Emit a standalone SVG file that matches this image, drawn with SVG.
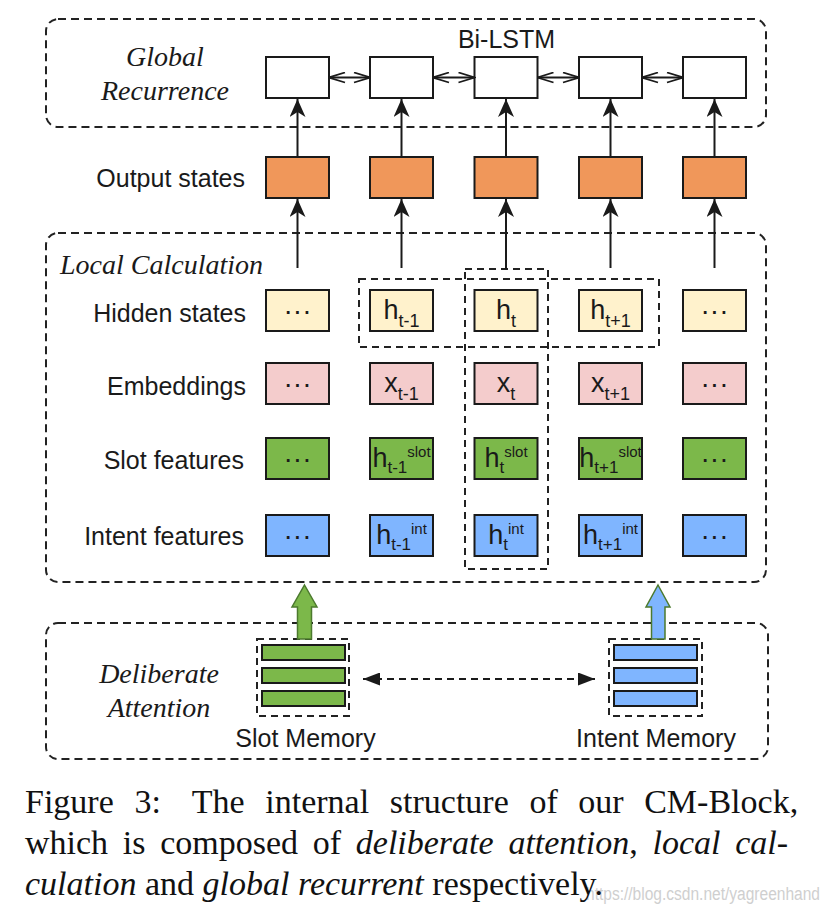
<svg xmlns="http://www.w3.org/2000/svg" width="832" height="918" viewBox="0 0 832 918">
<style>
.sans{font-family:"Liberation Sans",Arial,sans-serif;fill:#1a1a1a}
.lbl{font-size:25px}
.ital{font-family:"Liberation Serif","Times New Roman",serif;font-style:italic;font-size:28px;fill:#1a1a1a}
.cap{font-family:"Liberation Serif","Times New Roman",serif;font-size:34px;fill:#111}
.cap .i{font-style:italic}
.region{fill:none;stroke:#222;stroke-width:2;stroke-dasharray:8 5}
.dash{fill:none;stroke:#222;stroke-width:2;stroke-dasharray:7 5}
.box{stroke:#1a1a1a;stroke-width:2}
.lstm{fill:#fff}
.out{fill:#F0975A}
.hid{fill:#FFF2CC}
.emb{fill:#F4CCCC}
.slot{fill:#7CB84A}
.int{fill:#7FB5FF}
.ln{stroke:#1a1a1a;stroke-width:2;fill:none}
.cell{font-family:"Liberation Sans",Arial,sans-serif;font-size:27px;fill:#1a1a1a;text-anchor:middle}
.dots{font-family:"Liberation Sans",Arial,sans-serif;font-size:28px;fill:#1a1a1a;text-anchor:middle}
.sub{font-size:18px}
.sub2{font-size:17px}
.sup{font-size:15px}
</style>
<defs>
<marker id="head" viewBox="0 0 18 16" refX="18" refY="8" markerWidth="18" markerHeight="16" markerUnits="userSpaceOnUse" orient="auto">
<path d="M0,0 L18,8 L0,16 L5,8 Z" fill="#1a1a1a"/>
</marker>
<marker id="chev" viewBox="0 0 18 12" refX="17" refY="6" markerWidth="18" markerHeight="12" markerUnits="userSpaceOnUse" orient="auto-start-reverse">
<path d="M1,1 L17,6 L1,11" fill="none" stroke="#1a1a1a" stroke-width="1.8"/>
</marker>
<marker id="tri" viewBox="0 0 17 13" refX="17" refY="6.5" markerWidth="17" markerHeight="13" markerUnits="userSpaceOnUse" orient="auto-start-reverse">
<path d="M0,0 L17,6.5 L0,13 Z" fill="#1a1a1a" stroke="none"/>
</marker>
</defs>
<rect width="832" height="918" fill="#fff"/>

<!-- regions -->
<g id="global-recurrence">
<rect class="region" x="46" y="19" width="720" height="108" rx="12"/>
<text class="ital" x="165" y="66" text-anchor="middle">Global</text>
<text class="ital" x="165" y="100" text-anchor="middle">Recurrence</text>
<text class="sans lbl" x="506.5" y="48" text-anchor="middle">Bi-LSTM</text>
</g>
<g id="local-calculation">
<rect class="region" x="46" y="233" width="720" height="349" rx="12"/>
<text class="ital" x="60" y="274">Local Calculation</text>
<rect class="dash" x="359" y="279" width="300" height="68"/>
<rect class="dash" x="465" y="269" width="83" height="300"/>
</g>
<g id="deliberate-attention">
<rect class="region" x="46" y="623" width="722" height="136" rx="12"/>
<text class="ital" x="159" y="683" text-anchor="middle">Deliberate</text>
<text class="ital" x="159" y="717" text-anchor="middle">Attention</text>
</g>

<!-- row labels -->
<g id="row-labels" class="sans lbl" text-anchor="end">
<text x="245" y="187">Output states</text>
<text x="246" y="322">Hidden states</text>
<text x="246" y="395">Embeddings</text>
<text x="244" y="469">Slot features</text>
<text x="244" y="545">Intent features</text>
</g>

<!-- Bi-LSTM cells -->
<g id="bilstm-cells">
<rect class="box lstm" x="266" y="57" width="63" height="41"/>
<rect class="box lstm" x="370" y="57" width="63" height="41"/>
<rect class="box lstm" x="474.5" y="57" width="63" height="41"/>
<rect class="box lstm" x="579" y="57" width="63" height="41"/>
<rect class="box lstm" x="683" y="57" width="63" height="41"/>
</g>

<!-- Output states -->
<g id="output-states">
<rect class="box out" x="266" y="157" width="63" height="41"/>
<rect class="box out" x="370" y="157" width="63" height="41"/>
<rect class="box out" x="474.5" y="157" width="63" height="41"/>
<rect class="box out" x="579" y="157" width="63" height="41"/>
<rect class="box out" x="683" y="157" width="63" height="41"/>
</g>

<!-- Hidden states -->
<g id="hidden-states">
<rect class="box hid" x="266" y="290" width="63" height="41"/>
<rect class="box hid" x="370" y="290" width="63" height="41"/>
<rect class="box hid" x="474.5" y="290" width="63" height="41"/>
<rect class="box hid" x="579" y="290" width="63" height="41"/>
<rect class="box hid" x="683" y="290" width="63" height="41"/>
<text class="dots" x="297.5" y="320">···</text>
<text class="cell" x="401.5" y="319">h<tspan class="sub" dy="8">t-1</tspan></text>
<text class="cell" x="506" y="319">h<tspan class="sub" dy="8">t</tspan></text>
<text class="cell" x="610.5" y="319">h<tspan class="sub" dy="8">t+1</tspan></text>
<text class="dots" x="714.5" y="320">···</text>
</g>

<!-- Embeddings -->
<g id="embeddings">
<rect class="box emb" x="266" y="363" width="63" height="41"/>
<rect class="box emb" x="370" y="363" width="63" height="41"/>
<rect class="box emb" x="474.5" y="363" width="63" height="41"/>
<rect class="box emb" x="579" y="363" width="63" height="41"/>
<rect class="box emb" x="683" y="363" width="63" height="41"/>
<text class="dots" x="297.5" y="393">···</text>
<text class="cell" x="401.5" y="392">x<tspan class="sub" dy="8">t-1</tspan></text>
<text class="cell" x="506" y="392">x<tspan class="sub" dy="8">t</tspan></text>
<text class="cell" x="610.5" y="392">x<tspan class="sub" dy="8">t+1</tspan></text>
<text class="dots" x="714.5" y="393">···</text>
</g>

<!-- Slot features -->
<g id="slot-features">
<rect class="box slot" x="266" y="438" width="63" height="41"/>
<rect class="box slot" x="370" y="438" width="63" height="41"/>
<rect class="box slot" x="474.5" y="438" width="63" height="41"/>
<rect class="box slot" x="579" y="438" width="63" height="41"/>
<rect class="box slot" x="683" y="438" width="63" height="41"/>
<text class="dots" x="297.5" y="468">···</text>
<text class="cell" x="401.5" y="467">h<tspan class="sub2" dy="6">t-1</tspan><tspan class="sup" dy="-16">slot</tspan></text>
<text class="cell" x="506" y="467">h<tspan class="sub2" dy="6">t</tspan><tspan class="sup" dy="-16">slot</tspan></text>
<text class="cell" x="610.5" y="467">h<tspan class="sub2" dy="6">t+1</tspan><tspan class="sup" dy="-16">slot</tspan></text>
<text class="dots" x="714.5" y="468">···</text>
</g>

<!-- Intent features -->
<g id="intent-features">
<rect class="box int" x="266" y="515" width="63" height="41"/>
<rect class="box int" x="370" y="515" width="63" height="41"/>
<rect class="box int" x="474.5" y="515" width="63" height="41"/>
<rect class="box int" x="579" y="515" width="63" height="41"/>
<rect class="box int" x="683" y="515" width="63" height="41"/>
<text class="dots" x="297.5" y="545">···</text>
<text class="cell" x="401.5" y="544">h<tspan class="sub2" dy="6">t-1</tspan><tspan class="sup" dy="-16">int</tspan></text>
<text class="cell" x="506" y="544">h<tspan class="sub2" dy="6">t</tspan><tspan class="sup" dy="-16">int</tspan></text>
<text class="cell" x="610.5" y="544">h<tspan class="sub2" dy="6">t+1</tspan><tspan class="sup" dy="-16">int</tspan></text>
<text class="dots" x="714.5" y="545">···</text>
</g>

<!-- Memories -->
<g id="slot-memory">
<rect class="dash" x="257" y="639" width="92" height="77"/>
<rect class="box slot" x="262" y="645" width="83" height="15"/>
<rect class="box slot" x="262" y="668" width="83" height="15"/>
<rect class="box slot" x="262" y="691" width="83" height="15"/>
<text class="sans lbl" x="305.5" y="747" text-anchor="middle">Slot Memory</text>
</g>
<g id="intent-memory">
<rect class="dash" x="609" y="639" width="93" height="77"/>
<rect class="box int" x="614" y="645" width="83" height="15"/>
<rect class="box int" x="614" y="668" width="83" height="15"/>
<rect class="box int" x="614" y="691" width="83" height="15"/>
<text class="sans lbl" x="656" y="747" text-anchor="middle">Intent Memory</text>
</g>

<!-- connectors -->
<g id="connectors">
<line class="ln" x1="329" y1="77.5" x2="370" y2="77.5" marker-start="url(#chev)" marker-end="url(#chev)"/>
<line class="ln" x1="433" y1="77.5" x2="474.5" y2="77.5" marker-start="url(#chev)" marker-end="url(#chev)"/>
<line class="ln" x1="537.5" y1="77.5" x2="579" y2="77.5" marker-start="url(#chev)" marker-end="url(#chev)"/>
<line class="ln" x1="642" y1="77.5" x2="683" y2="77.5" marker-start="url(#chev)" marker-end="url(#chev)"/>

<line class="ln" x1="297.5" y1="157" x2="297.5" y2="99" marker-end="url(#head)"/>
<line class="ln" x1="401.5" y1="157" x2="401.5" y2="99" marker-end="url(#head)"/>
<line class="ln" x1="506" y1="157" x2="506" y2="99" marker-end="url(#head)"/>
<line class="ln" x1="610.5" y1="157" x2="610.5" y2="99" marker-end="url(#head)"/>
<line class="ln" x1="714.5" y1="157" x2="714.5" y2="99" marker-end="url(#head)"/>

<line class="ln" x1="297.5" y1="268" x2="297.5" y2="199" marker-end="url(#head)"/>
<line class="ln" x1="401.5" y1="268" x2="401.5" y2="199" marker-end="url(#head)"/>
<line class="ln" x1="506" y1="269" x2="506" y2="199" marker-end="url(#head)"/>
<line class="ln" x1="610.5" y1="268" x2="610.5" y2="199" marker-end="url(#head)"/>
<line class="ln" x1="714.5" y1="268" x2="714.5" y2="199" marker-end="url(#head)"/>

<path d="M304.5,585 L317,607 L311.5,607 L311.5,639 L297.5,639 L297.5,607 L292,607 Z" fill="#7CB84A" stroke="#4C7A2E" stroke-width="1.5"/>
<path d="M658,585 L670,607 L665,607 L665,639 L651.5,639 L651.5,607 L646,607 Z" fill="#7FB5FF" stroke="#4C7A2E" stroke-width="1.5"/>

<line x1="363" y1="679" x2="595" y2="679" stroke="#1a1a1a" stroke-width="2" stroke-dasharray="7 5" marker-start="url(#tri)" marker-end="url(#tri)"/>
</g>

<!-- caption -->
<text x="586" y="900" font-family="'Liberation Sans',Arial,sans-serif" font-size="18" fill="#cfcfcf" textLength="234" lengthAdjust="spacingAndGlyphs">https://blog.csdn.net/yagreenhand</text>
<g id="caption" class="cap">
<text y="813"><tspan x="25">Figure</tspan><tspan x="134.4">3:</tspan><tspan x="191.8">The</tspan><tspan x="265.3">internal</tspan><tspan x="389.8">structure</tspan><tspan x="529.4">of</tspan><tspan x="578.3">our</tspan><tspan x="644.2">CM-Block,</tspan></text>
<text y="854"><tspan x="25">which</tspan><tspan x="122.8">is</tspan><tspan x="160.2">composed</tspan><tspan x="312.8">of</tspan><tspan x="355.8" class="i">deliberate</tspan><tspan x="508.4" class="i">attention</tspan><tspan>,</tspan><tspan x="652.5" class="i">local</tspan><tspan x="735.2" class="i">cal-</tspan></text>
<text x="25" y="895"><tspan class="i">culation</tspan> and <tspan class="i">global recurrent</tspan> respectively.</text>
</g>
</svg>
